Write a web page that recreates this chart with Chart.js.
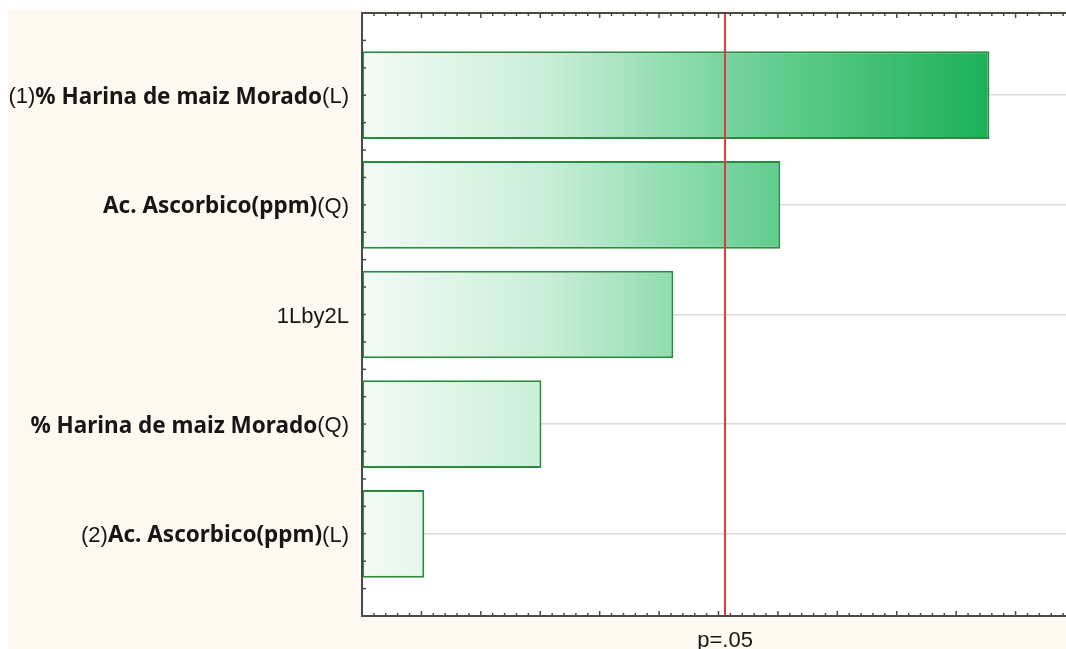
<!DOCTYPE html>
<html>
<head>
<meta charset="utf-8">
<script src="https://cdn.jsdelivr.net/npm/chart.js@4.4.1/dist/chart.umd.min.js"></script>
<style>
  html, body { margin: 0; padding: 0; background: #fff; overflow: hidden; }
  #wrap { position: absolute; left: 8px; top: 10px; width: 1077px; height: 639px; background: #fdf9f0; }
</style>
</head>
<body>
<div id="wrap"><canvas id="pareto"></canvas></div>
<script>
(function(){
    'use strict';

    // Effect names; the part between ** is set in bold
    const effectLabels = [
        '(1)**% Harina de maiz Morado**(L)',
        '**Ac. Ascorbico(ppm)**(Q)',
        '1Lby2L',
        '**% Harina de maiz Morado**(Q)',
        '(2)**Ac. Ascorbico(ppm)**(L)'
    ];
    // Standardized effect estimates (absolute value), one per row
    const effectValues = [5.28, 3.52, 2.62, 1.51, 0.524];
    const effectRows = [1, 2, 3, 4, 5];

    // Critical value line
    const pCritical = 3.055;
    const pLabel = 'p=.05';

    const xMin = 0;
    const xMax = 6;
    const xMinorStep = 0.1;
    const yMinorStep = 0.25;

    const COLORS = {
        back: '#fdf9f0',
        plot: '#ffffff',
        axis: '#4a4a4a',
        grid: '#dadada',
        barEdge: '#2a8a3e',
        critical: '#e8343c',
        text: '#161616'
    };

    function qs(id){ return document.getElementById(id); }

    function barGradient(context){
        const chart = context.chart;
        const area = chart.chartArea;
        if(!area) return 'rgba(0,0,0,0)';
        const x = chart.scales.x;
        const g = chart.ctx.createLinearGradient(x.getPixelForValue(0), 0, x.getPixelForValue(Math.max(...effectValues)), 0);
        g.addColorStop(0, 'rgb(243,251,246)');
        g.addColorStop(0.3, 'rgb(200,238,215)');
        g.addColorStop(0.65, 'rgb(100,206,145)');
        g.addColorStop(1, 'rgb(28,176,88)');
        return g;
    }

    function line(ctx, x1, y1, x2, y2){
        ctx.beginPath();
        ctx.moveTo(x1, y1);
        ctx.lineTo(x2, y2);
        ctx.stroke();
    }

    // draws "(1)**bold**(L)" as alternating regular / bold runs, right aligned
    function drawMixedLabel(ctx, text, right, mid){
        const parts = text.split('**').map((t, i) => ({ t: t, bold: i % 2 === 1 })).filter(p => p.t);
        const fontOf = p => p.bold ? 'bold 22.5px "Noto Sans"' : '22px "Liberation Sans"';
        let width = 0;
        parts.forEach(p => { ctx.font = fontOf(p); p.w = ctx.measureText(p.t).width; width += p.w; });
        let cx = right - width;
        parts.forEach(p => {
            ctx.font = fontOf(p);
            ctx.fillText(p.t, cx, mid);
            cx += p.w;
        });
    }

    const frame = {
        id: 'frame',
        beforeDraw(chart){
            const { ctx, chartArea: a } = chart;
            ctx.save();
            ctx.fillStyle = COLORS.plot;
            ctx.fillRect(a.left, a.top, a.right - a.left, a.bottom - a.top);
            ctx.restore();
        },
        afterDatasetsDraw(chart){
            const { ctx, chartArea: a, scales: { x, y } } = chart;
            ctx.save();

            // critical value
            const px = x.getPixelForValue(pCritical);
            ctx.strokeStyle = COLORS.critical;
            ctx.lineWidth = 2;
            line(ctx, px, a.top, px, a.bottom);

            // plot frame
            ctx.strokeStyle = COLORS.axis;
            ctx.lineWidth = 2;
            ctx.beginPath();
            ctx.moveTo(a.right, a.top);
            ctx.lineTo(a.left, a.top);
            ctx.lineTo(a.left, a.bottom);
            ctx.lineTo(a.right, a.bottom);
            ctx.stroke();

            // inward ticks, top and bottom
            ctx.lineWidth = 1.5;
            const nx = Math.round((xMax - xMin) / xMinorStep);
            for(let i = 1; i <= nx; i++){
                const p = x.getPixelForValue(xMin + i * xMinorStep);
                const len = i % 5 === 0 ? 5 : 3;
                line(ctx, p, a.bottom, p, a.bottom - len);
                line(ctx, p, a.top, p, a.top + len);
            }
            // inward ticks, left
            for(let v = y.min + yMinorStep; v < y.max - 0.01; v += yMinorStep){
                const p = y.getPixelForValue(v);
                line(ctx, a.left, p, a.left + 4, p);
            }

            // row labels
            ctx.fillStyle = COLORS.text;
            ctx.textBaseline = 'middle';
            ctx.textAlign = 'left';
            effectLabels.forEach((lbl, i) => {
                drawMixedLabel(ctx, lbl, a.left - 13, y.getPixelForValue(effectRows[i]) + 2);
            });

            // critical value caption
            ctx.font = '22px "Liberation Sans"';
            ctx.textAlign = 'center';
            ctx.textBaseline = 'alphabetic';
            ctx.fillText(pLabel, px, a.bottom + 31);
            ctx.restore();
        }
    };

    function initialize(){
        new Chart(qs('pareto').getContext('2d'), {
            type: 'bar',
            data: {
                datasets: [{
                    data: effectRows.map((r, i) => ({ x: effectValues[i], y: r })),
                    backgroundColor: barGradient,
                    borderColor: COLORS.barEdge,
                    borderWidth: 2,
                    borderSkipped: false,
                    barPercentage: 0.8,
                    categoryPercentage: 1
                }]
            },
            options: {
                indexAxis: 'y',
                responsive: true,
                maintainAspectRatio: false,
                animation: false,
                layout: { padding: { top: 3, right: 10 } },
                plugins: {
                    legend: { display: false },
                    tooltip: { enabled: false }
                },
                scales: {
                    x: {
                        type: 'linear',
                        min: xMin,
                        max: xMax,
                        grid: { display: false },
                        border: { display: false },
                        ticks: { display: false },
                        afterFit(s){ s.height = 33; }
                    },
                    y: {
                        type: 'linear',
                        min: 0.25,
                        max: 5.75,
                        reverse: true,
                        offset: false,
                        ticks: { display: false, stepSize: 1, includeBounds: false },
                        grid: { color: COLORS.grid, lineWidth: 1.5, drawTicks: false, offset: false },
                        border: { display: false },
                        afterFit(s){ s.width = 354; }
                    }
                }
            },
            plugins: [frame]
        });
    }

    document.addEventListener('DOMContentLoaded', initialize);
})();
</script>
</body>
</html>
